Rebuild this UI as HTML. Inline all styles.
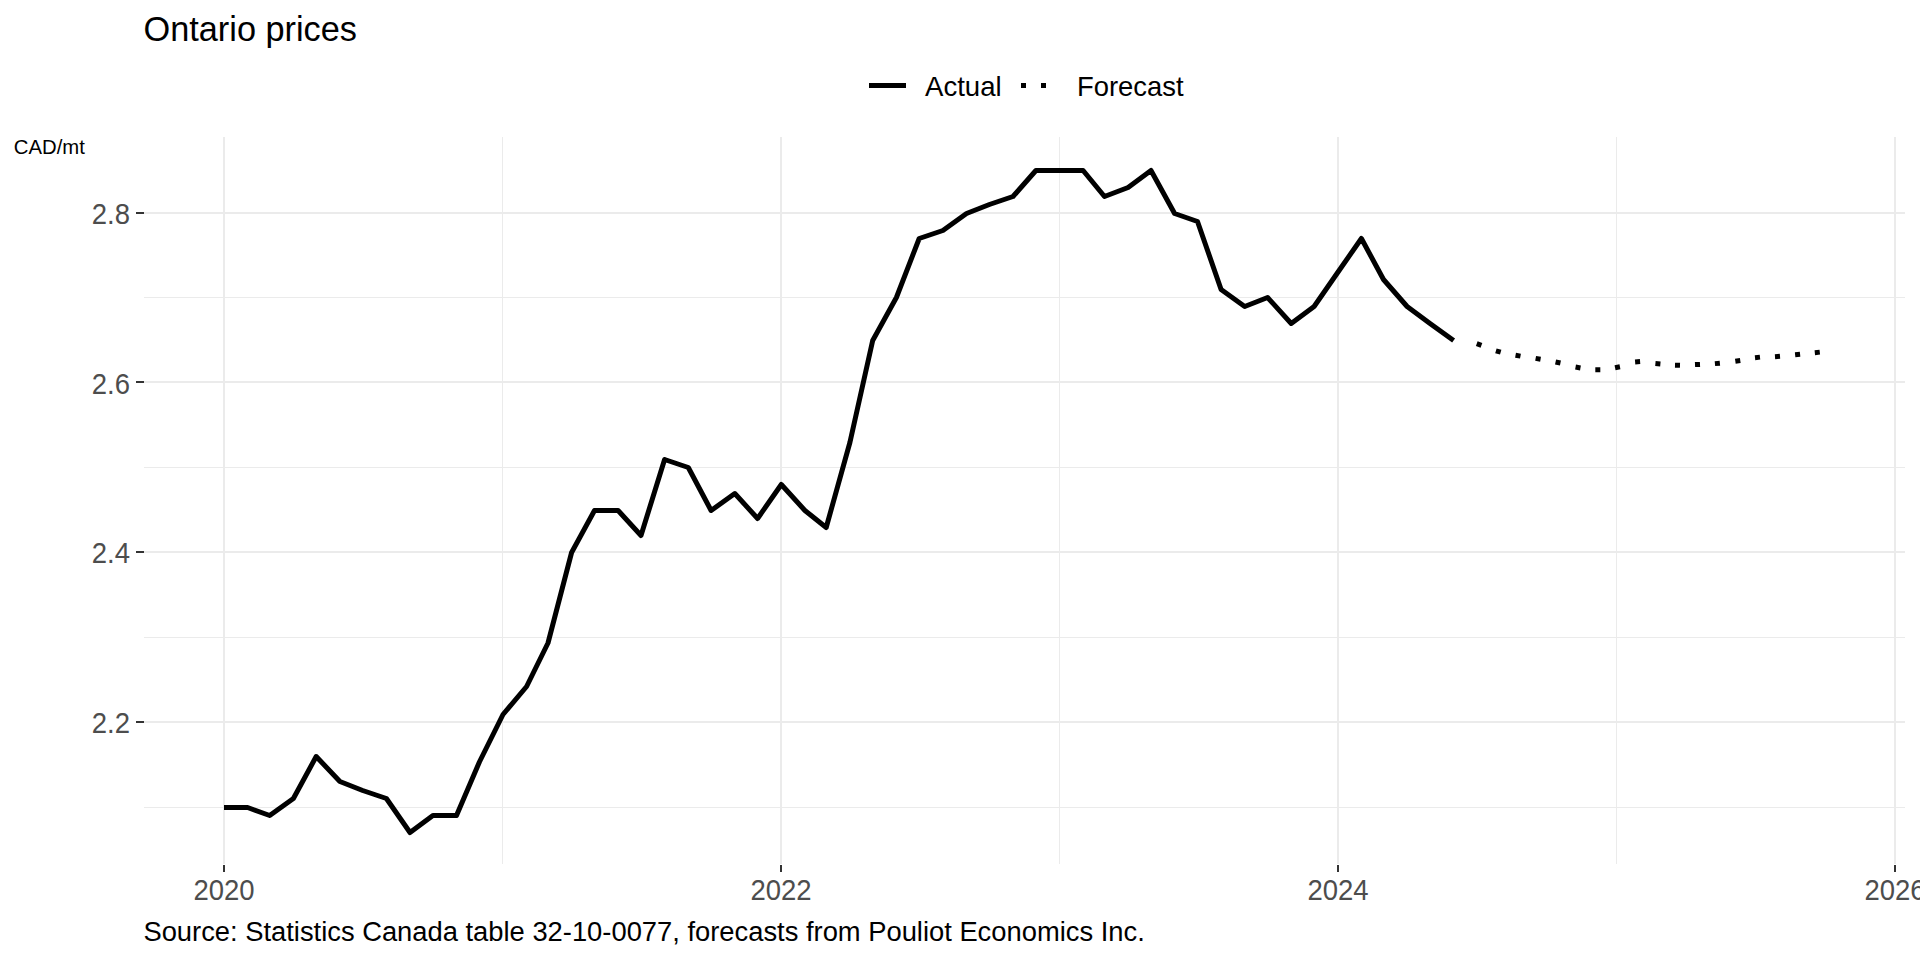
<!DOCTYPE html>
<html><head><meta charset="utf-8"><title>Ontario prices</title>
<style>
html,body{margin:0;padding:0;background:#fff;width:1920px;height:960px;overflow:hidden}
svg{display:block}
text{font-family:"Liberation Sans",sans-serif}
.ax{font-size:27.5px;fill:#4D4D4D}
</style></head><body>
<svg width="1920" height="960" viewBox="0 0 1920 960">
<rect width="1920" height="960" fill="#fff"/>
<g>
<rect x="144" y="212" width="1761" height="2" fill="#EBEBEB"/>
<rect x="144" y="381" width="1761" height="2" fill="#EBEBEB"/>
<rect x="144" y="551" width="1761" height="2" fill="#EBEBEB"/>
<rect x="144" y="721" width="1761" height="2" fill="#EBEBEB"/>
<rect x="144" y="297" width="1761" height="1" fill="#EBEBEB"/>
<rect x="144" y="467" width="1761" height="1" fill="#EBEBEB"/>
<rect x="144" y="637" width="1761" height="1" fill="#EBEBEB"/>
<rect x="144" y="807" width="1761" height="1" fill="#EBEBEB"/>
<rect x="223" y="137" width="2" height="727" fill="#EBEBEB"/>
<rect x="780" y="137" width="2" height="727" fill="#EBEBEB"/>
<rect x="1337" y="137" width="2" height="727" fill="#EBEBEB"/>
<rect x="1894" y="137" width="2" height="727" fill="#EBEBEB"/>
<rect x="502" y="137" width="1" height="727" fill="#EBEBEB"/>
<rect x="1059" y="137" width="1" height="727" fill="#EBEBEB"/>
<rect x="1616" y="137" width="1" height="727" fill="#EBEBEB"/>
</g>
<g>
<rect x="136" y="721" width="8" height="2" fill="#333333"/>
<rect x="136" y="551" width="8" height="2" fill="#333333"/>
<rect x="136" y="381" width="8" height="2" fill="#333333"/>
<rect x="136" y="212" width="8" height="2" fill="#333333"/>
<rect x="223" y="865" width="2" height="7" fill="#333333"/>
<rect x="780" y="865" width="2" height="7" fill="#333333"/>
<rect x="1337" y="865" width="2" height="7" fill="#333333"/>
<rect x="1894" y="865" width="2" height="7" fill="#333333"/>
</g>
<g>
<text transform="translate(130 733) scale(1 1.045)" text-anchor="end" class="ax">2.2</text>
<text transform="translate(130 563) scale(1 1.045)" text-anchor="end" class="ax">2.4</text>
<text transform="translate(130 394) scale(1 1.045)" text-anchor="end" class="ax">2.6</text>
<text transform="translate(130 224) scale(1 1.045)" text-anchor="end" class="ax">2.8</text>
<text transform="translate(224 900) scale(1 1.045)" text-anchor="middle" class="ax">2020</text>
<text transform="translate(781 900) scale(1 1.045)" text-anchor="middle" class="ax">2022</text>
<text transform="translate(1338 900) scale(1 1.045)" text-anchor="middle" class="ax">2024</text>
<text transform="translate(1895 900) scale(1 1.045)" text-anchor="middle" class="ax">2026</text>
</g>
<polyline points="224.0,807.5 247.6,807.5 269.7,815.5 293.4,798.5 316.2,756.5 339.9,781.5 362.7,790.5 386.4,798.5 410.0,832.5 432.9,815.5 456.5,815.5 479.4,762.0 503.0,714.5 526.6,686.5 548.0,643.0 571.6,552.5 594.5,510.5 618.1,510.5 641.0,535.5 664.6,459.5 688.3,467.5 711.1,510.5 734.8,493.5 757.6,518.5 781.3,484.5 804.9,510.5 826.2,527.5 849.9,442.5 872.7,340.5 896.4,297.5 919.2,238.5 942.9,230.5 966.5,213.5 989.4,204.5 1013.0,196.5 1035.9,170.5 1059.5,170.5 1083.1,170.5 1104.5,196.5 1128.1,187.5 1151.0,170.5 1174.6,213.5 1197.5,221.5 1221.1,289.5 1244.7,306.5 1267.6,297.5 1291.2,323.5 1314.1,306.5 1337.7,272.5 1361.4,238.5 1383.5,279.5 1407.1,306.5 1430.0,323.5 1453.6,340.5" fill="none" stroke="#000" stroke-width="5" stroke-linejoin="round" stroke-linecap="butt"/>
<g fill="#000">
<rect x="1476.6" y="342.0" width="5" height="5" transform="rotate(20.0 1479.1 344.5)"/>
<rect x="1495.8" y="349.0" width="5" height="5" transform="rotate(16.1 1498.3 351.5)"/>
<rect x="1515.5" y="353.2" width="5" height="5" transform="rotate(10.4 1518.0 355.7)"/>
<rect x="1535.6" y="356.3" width="5" height="5" transform="rotate(9.6 1538.1 358.8)"/>
<rect x="1555.5" y="360.0" width="5" height="5" transform="rotate(12.3 1558.0 362.5)"/>
<rect x="1575.5" y="365.0" width="5" height="5" transform="rotate(10.4 1578.0 367.5)"/>
<rect x="1595.3" y="367.3" width="5" height="5" transform="rotate(-0.4 1597.8 369.8)"/>
<rect x="1615.0" y="364.7" width="5" height="5" transform="rotate(-11.4 1617.5 367.2)"/>
<rect x="1635.1" y="359.3" width="5" height="5" transform="rotate(-4.8 1637.6 361.8)"/>
<rect x="1655.4" y="361.3" width="5" height="5" transform="rotate(5.0 1657.9 363.8)"/>
<rect x="1675.0" y="362.8" width="5" height="5" transform="rotate(1.0 1677.5 365.3)"/>
<rect x="1695.0" y="362.0" width="5" height="5" transform="rotate(-2.7 1697.5 364.5)"/>
<rect x="1714.9" y="360.9" width="5" height="5" transform="rotate(-5.1 1717.4 363.4)"/>
<rect x="1735.3" y="358.4" width="5" height="5" transform="rotate(-8.5 1737.8 360.9)"/>
<rect x="1755.0" y="354.9" width="5" height="5" transform="rotate(-6.3 1757.5 357.4)"/>
<rect x="1775.0" y="354.0" width="5" height="5" transform="rotate(-4.1 1777.5 356.5)"/>
<rect x="1795.1" y="352.0" width="5" height="5" transform="rotate(-5.9 1797.6 354.5)"/>
<rect x="1814.8" y="349.9" width="5" height="5" transform="rotate(-6.1 1817.3 352.4)"/>
</g>
<text transform="translate(143.5 41) scale(1 1.0)" style="font-size:34.3px;fill:#000">Ontario prices</text>
<rect x="869" y="83" width="37" height="5" fill="#000"/>
<rect x="1021" y="83" width="5" height="5" fill="#000"/>
<rect x="1041" y="83" width="5" height="5" fill="#000"/>
<text transform="translate(925 96) scale(1 1.03)" style="font-size:27.6px;fill:#000">Actual</text>
<text transform="translate(1077 96) scale(1 1.03)" style="font-size:27.4px;fill:#000">Forecast</text>
<text transform="translate(13.8 154) scale(1 1.03)" style="font-size:20.3px;fill:#000">CAD/mt</text>
<text transform="translate(143.4 941) scale(1 1.03)" style="font-size:27.35px;fill:#000">Source: Statistics Canada table 32-10-0077, forecasts from Pouliot Economics Inc.</text>
</svg>
</body></html>
